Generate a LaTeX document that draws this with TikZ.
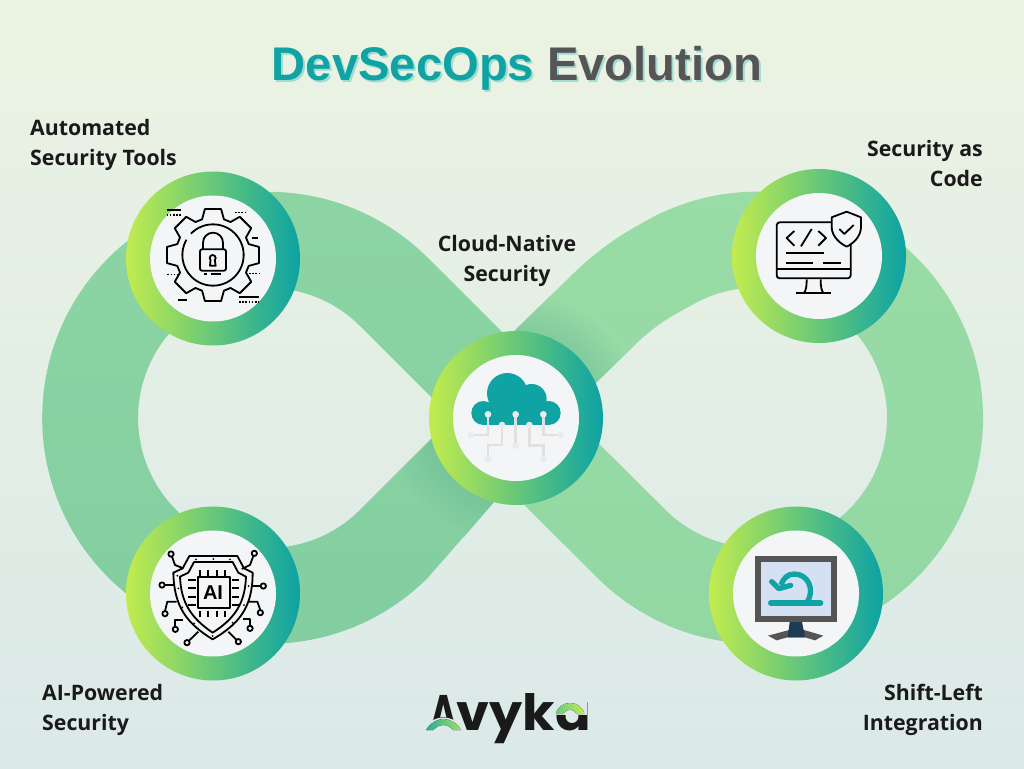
\documentclass[tikz,border=0pt]{standalone}
\usepackage{fontspec}
\setmainfont{Liberation Sans}
\newfontfamily\labelfont{Open Sans}
\newfontfamily\logofont{Poppins}
\usepackage{tikz}
\definecolor{bgtop}{HTML}{EBF3E2}
\definecolor{bgbottom}{HTML}{DBE9E8}
\definecolor{bglogo}{HTML}{DCE9E8}
\definecolor{bandlefttop}{HTML}{8DD5A3}
\definecolor{bandleftbottom}{HTML}{82CDA0}
\definecolor{bandrighttop}{HTML}{9ADCA6}
\definecolor{bandrightbottom}{HTML}{92D7A3}
\definecolor{shadowright}{HTML}{51AA8E}
\definecolor{shadowleft}{HTML}{5BAE8F}
\definecolor{ringlime}{HTML}{C2EC4E}
\definecolor{ringgreen}{HTML}{6CCA86}
\definecolor{ringteal}{HTML}{0CA2A4}
\definecolor{disc}{HTML}{F3F5F7}
\definecolor{teal}{HTML}{0FA3A3}
\definecolor{titlegray}{HTML}{555555}
\definecolor{titleshadow}{HTML}{A3DBD3}
\definecolor{ink}{HTML}{1A1A1A}
\definecolor{screenblue}{HTML}{D5E1F3}
\definecolor{standnavy}{HTML}{1F3A54}
\tikzset{
	ringnode/.style={circle,minimum size=174pt,inner sep=0pt,left color=ringlime,middle color=ringgreen,right color=ringteal},
	discnode/.style={circle,minimum size=126pt,inner sep=0pt,fill=disc},
	labelnode/.style={font=\labelfont\bfseries\fontsize{21.3}{30}\selectfont,text=ink,inner sep=0pt},
	titlenode/.style={font=\bfseries\fontsize{47.2}{48}\selectfont,inner sep=0pt},
	logonode/.style={font=\logofont\bfseries\fontsize{50}{50}\selectfont,text=ink,inner sep=0pt,anchor=base},
	iconline/.style={line width=1.8pt,draw=black,line join=round},
	icondots/.style={line width=1.5pt,draw=black,dash pattern=on 1.6pt off 1.6pt},
	wire/.style={line width=2.6pt,draw=black!12},
	wiredot/.style={fill=black!4!disc}
}
\begin{document}
\begin{tikzpicture}[x=1pt,y=-1pt]
	\shade[top color=bgtop,bottom color=bgbottom] (0,0) rectangle (1024,768);
	% band
	\shade[top color=bandrighttop,bottom color=bandrightbottom,even odd rule] (644,222) arc[start angle=-120,end angle=135,radius=226] -- (471,452) -- (471,373) -- (575,272) .. controls (600,248) and (622,234) .. cycle
		(692,305) arc[start angle=-120,end angle=135,radius=130] -- (566.5,411.5) -- (640,340) .. controls (660,322) and (675,314) .. cycle;
	\shade[top color=bandlefttop,bottom color=bandleftbottom,even odd rule] (428,258) arc[start angle=-45,end angle=-315,radius=226] -- (493,503) -- (540,450) -- (554,384) -- cycle
		(360,326) arc[start angle=-45,end angle=-315,radius=130] -- (452,418) -- cycle;
	% shadows beside the middle ring
	\begin{scope}
		\clip (471,373) -- (575,272) -- (650,330) -- (566.5,411.5) -- cycle;
		\shade[inner color=shadowright,outer color=bandrighttop!90!bandrightbottom] (516,418) circle[radius=130];
	\end{scope}
	\begin{scope}
		\clip (540,450) -- (493,503) -- (433,573) -- (363,510) -- (452,418) -- cycle;
		\shade[inner color=shadowleft,outer color=bandleftbottom!65!bandlefttop] (516,418) circle[radius=130];
	\end{scope}
	\node[titlenode,text=titleshadow] (titleback) at (519,70.5) {DevSecOps Evolution};
	\node[titlenode] (title) at (517,68.5) {\textcolor{teal}{DevSecOps} \textcolor{titlegray}{Evolution}};
	% rings
	\node[ringnode] (ringtools) at (213,258.5) {};
	\node[ringnode] (ringcode) at (819,256) {};
	\node[ringnode] (ringcloud) at (516,418) {};
	\node[ringnode] (ringai) at (213,593.5) {};
	\node[ringnode] (ringshift) at (796,593.5) {};
	\node[discnode] (disctools) at (ringtools) {};
	\node[discnode] (disccode) at (ringcode) {};
	\node[discnode] (disccloud) at (ringcloud) {};
	\node[discnode] (discai) at (ringai) {};
	\node[discnode] (discshift) at (ringshift) {};
	% labels
	\node[labelnode,anchor=west,align=left] (labeltools) at (30,145) {Automated\\Security Tools};
	\node[labelnode,anchor=east,align=right] (labelcode) at (983,164) {Security as\\Code};
	\node[labelnode,align=center] (labelcloud) at (507,261) {Cloud-Native\\Security};
	\node[labelnode,anchor=west,align=left] (labelai) at (42,710) {AI-Powered\\Security};
	\node[labelnode,anchor=east,align=right] (labelshift) at (983,710) {Shift-Left\\Integration};
	% gear
	\begin{scope}[shift={(120,160)},scale=1/3]
		\begin{scope}[shift={(279,285)}]
			\draw[iconline] (-107:112) \foreach \a in {-90,-45,...,225} { -- (\a-17:112) -- (\a-10:140) -- (\a+10:140) -- (\a+17:112) } -- cycle;
			\draw[iconline] (224:92) arc[start angle=224,end angle=570,radius=92];
		\end{scope}
		\draw[iconline,rounded corners=2pt] (240,268) rectangle (318,332);
		\draw[iconline] (249,268) -- (249,248) arc[start angle=180,end angle=360,radius=30] -- (309,268);
		\draw[iconline] (270,317) -- (287,317) -- (284.4,300.4) arc[start angle=45,end angle=-225,radius=9] -- cycle;
		\draw[iconline] (140,150) -- (182,150);
		\draw[icondots] (140,165) -- (182,165);
		\draw[icondots] (345,158) -- (374,158);
		\draw[iconline] (397,235) -- (415,235);
		\draw[icondots] (142,344) -- (172,344);
		\draw[icondots] (387,341) -- (416,341);
		\draw[iconline] (175,420) -- (202,420);
		\draw[iconline] (357,411) -- (416,411);
		\draw[icondots] (357,426) -- (416,426);
		\draw[iconline] (252,342) -- (262,342) (272,342) -- (304,342);
	\end{scope}
	% monitor with shield
	\begin{scope}[shift={(725,160)},scale=1/3]
		\draw[iconline,rounded corners=3pt] (320,187) -- (155,187) -- (155,355) -- (377,355) -- (377,255);
		\draw[iconline] (155,327) -- (377,327);
		\draw[iconline] (245,358) .. controls (245,380) and (243,392) .. (236,400);
		\draw[iconline] (287,358) .. controls (287,380) and (289,392) .. (296,400);
		\draw[iconline] (212,400) -- (318,400);
		\draw[iconline] (208,213) -- (185,234) -- (208,257);
		\draw[iconline] (260,207) -- (228,259);
		\draw[iconline] (280,213) -- (303,234) -- (280,257);
		\draw[iconline] (183,279) -- (296,279);
		\draw[iconline] (183,310) -- (265,310);
		\draw[iconline] (295,310) -- (348,310);
		\draw[iconline,fill=disc] (320,172) -- (365,155) -- (408,172) -- (408,200) .. controls (408,230) and (385,250) .. (365,260) .. controls (345,250) and (320,230) .. (320,200) -- cycle;
		\draw[iconline] (343,207) -- (358,222) -- (386,195);
	\end{scope}
	% cloud
	\begin{scope}[shift={(420,325)},scale=1/3]
		\fill[teal] (190,264) circle[radius=36] (262,205) circle[radius=61] (335,222) circle[radius=45] (386,264) circle[radius=36];
		\fill[teal] (190,240) rectangle (386,300);
		\draw[wire] (204,268) -- (204,330) -- (152,330);
		\draw[wire] (370,268) -- (370,330) -- (422,330);
		\draw[wire] (287,268) -- (287,362);
		\draw[wire] (246,300) -- (246,360) -- (204,360) -- (204,403);
		\draw[wire] (328,300) -- (328,362) -- (370,362) -- (370,403);
		\foreach \x/\y in {204/268,370/268,287/268,246/300,328/300,152/330,422/330,287/362,204/403,370/403} {
			\fill[wiredot] (\x,\y) circle[radius=10];
		}
	\end{scope}
	% ai shield
	\begin{scope}[shift={(120,500)},scale=1/3]
		\draw[iconline] (208,168) -- (352,168) -- (372,205) -- (398,218) .. controls (398,320) and (360,370) .. (278,418) .. controls (200,370) and (162,320) .. (160,218) -- (188,205) -- cycle;
		\draw[iconline] (222,186) -- (338,186) -- (355,218) -- (378,230) .. controls (375,310) and (345,355) .. (278,398) .. controls (215,355) and (183,310) .. (180,230) -- (205,218) -- cycle;
		\draw[iconline,fill=disc] (233,230) rectangle (330,325);
		\node[font=\bfseries\fontsize{20}{20}\selectfont,inner sep=0pt] (aitext) at (279,278) {AI};
		\foreach \p in {240,265,290,315} {
			\draw[iconline] (\p,210) -- (\p,228);
			\draw[iconline] (\p,332) -- (\p,350);
			\draw[iconline] (205,\p) -- (228,\p);
			\draw[iconline] (336,\p) -- (358,\p);
		}
		\foreach \x/\y in {228/178,280/177,330/178,172/227,175/265,386/258,372/315,187/322,222/370,338/368,278/408} {
			\fill[black] (\x,\y) circle[radius=3];
		}
		\draw[iconline] (156,170) -- (165,195) -- (190,205);
		\draw[iconline] (400,168) -- (390,195) -- (365,207);
		\draw[iconline] (134,255) -- (165,255);
		\draw[iconline] (422,258) -- (395,258);
		\draw[iconline] (135,333) -- (142,305) -- (170,305);
		\draw[iconline] (421,330) -- (412,305) -- (385,305);
		\draw[iconline] (166,380) -- (166,360) -- (188,360);
		\draw[iconline] (390,377) -- (390,358) -- (368,358);
		\draw[iconline] (207,422) -- (235,395);
		\draw[iconline] (349,419) -- (325,395);
		\foreach \x/\y in {153/162,403/160,135/341,421/338,166/388,390/385,126/255,430/258,201/428,355/425} {
			\draw[iconline,fill=disc] (\x,\y) circle[radius=8];
		}
	\end{scope}
	% screen
	\begin{scope}[shift={(700,500)},scale=1/3]
		\fill[titlegray] (204,407) -- (268,390) -- (305,388) -- (370,407) -- (345,421) -- (315,412) -- (262,412) -- (230,421) -- cycle;
		\fill[standnavy] (270,360) -- (305,360) -- (315,412) -- (263,412) -- cycle;
		\fill[titlegray] (164,168) rectangle (410,365);
		\fill[screenblue] (183,185) rectangle (392,348);
		\draw[teal,line width=5.3pt,line cap=round] (212,309) -- (362,309);
		\draw[teal,line width=5.3pt] (322,305) .. controls (345,270) and (325,222) .. (283,222) .. controls (262,222) and (250,235) .. (243,255);
		\draw[teal,line width=5.3pt,line cap=round,line join=round] (215,245) -- (236,266) -- (272,256);
	\end{scope}
	% logo
	\node[logonode,xscale=0.72,transform shape] (logoa) at (443.5,730) {A};
	\node[logonode,xscale=1.05,transform shape] (logorest) at (524,730) {vyka};
	\begin{scope}[shift={(400,680)},scale=1/3]
		\fill[bglogo] (70,156) .. controls (90,98) and (170,98) .. (192,156) -- cycle;
		\fill[left color=ringteal!70!ringgreen,right color=ringlime!60!ringgreen] (78,150) .. controls (92,128) and (112,117) .. (130,117) .. controls (150,117) and (170,128) .. (183,150) -- (160,150) .. controls (150,140) and (140,135) .. (130,135) .. controls (120,135) and (110,140) .. (100,150) -- cycle;
		\fill[bglogo] (462,60) rectangle (562,106);
		\fill[left color=ringgreen,right color=ringlime] (468,102) .. controls (472,80) and (490,69) .. (510,69) .. controls (530,69) and (548,80) .. (553,102) -- (530,102) .. controls (526,93) and (518,89) .. (510,89) .. controls (502,89) and (494,93) .. (490,102) -- cycle;
	\end{scope}
\end{tikzpicture}
\end{document}
